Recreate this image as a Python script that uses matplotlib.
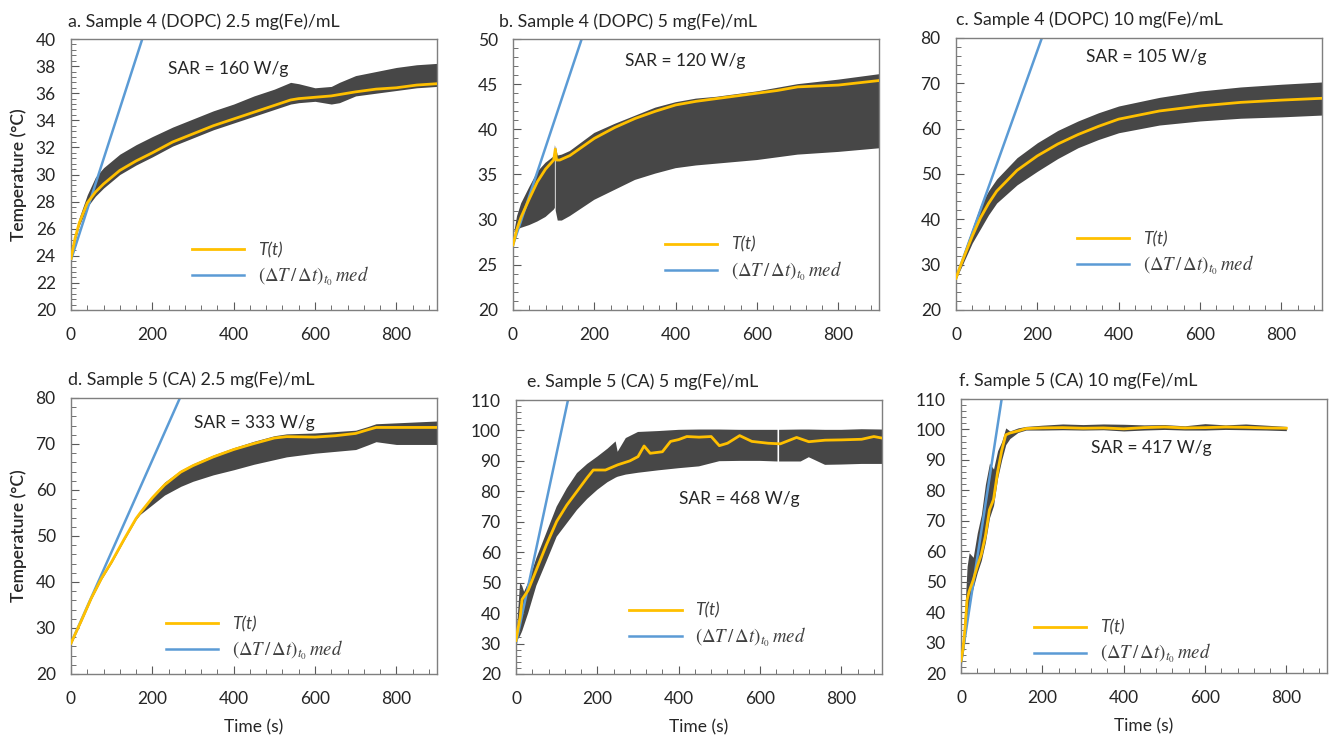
import numpy as np
import matplotlib
matplotlib.use("Agg")
from matplotlib import pyplot as plt
from matplotlib.ticker import MultipleLocator, AutoMinorLocator

plt.rcParams['font.family'] = ['Lato', 'DejaVu Sans']
plt.rcParams['mathtext.fontset'] = 'stix'

nan = np.nan

titles = ['a. Sample 4 (DOPC) 2.5 mg(Fe)/mL', 'b. Sample 4 (DOPC) 5 mg(Fe)/mL',
          'c. Sample 4 (DOPC) 10 mg(Fe)/mL', 'd. Sample 5 (CA) 2.5 mg(Fe)/mL',
          'e. Sample 5 (CA) 5 mg(Fe)/mL', 'f. Sample 5 (CA) 10 mg(Fe)/mL']
sar = [160, 120, 105, 333, 468, 417]
ylims = [(20, 40), (20, 50), (20, 80), (20, 80), (20, 110), (20, 110)]
ysteps = [2, 5, 10, 10, 10, 10]

# initial slope fits (intercept degC, slope degC/s)
fit_b0 = [23.7, 27.2, 27.0, 26.7, 30.1, 23.2]
fit_k = [0.093, 0.135, 0.251, 0.199, 0.625, 0.868]

# a
t_a = [0, 10, 20, 40, 60, 80, 120, 160, 200, 250, 300, 350, 400, 450, 500, 540, 560, 600, 640, 660, 700, 750, 800, 850, 900]
mean_a = [23.8, 25.3, 26.4, 27.9, 28.7, 29.3, 30.3, 31.0, 31.6, 32.4, 33.0, 33.6, 34.1, 34.6, 35.1, 35.5, 35.6, 35.7, 35.8, 35.9, 36.1, 36.3, 36.4, 36.6, 36.7]
up_a = [23.9, 25.6, 26.8, 28.5, 29.8, 30.5, 31.5, 32.2, 32.8, 33.5, 34.1, 34.7, 35.2, 35.8, 36.3, 36.8, 36.7, 36.4, 36.5, 36.8, 37.3, 37.6, 37.9, 38.1, 38.2]
lo_a = [23.7, 25.1, 26.2, 27.6, 28.4, 29.0, 30.0, 30.7, 31.3, 32.1, 32.7, 33.3, 33.8, 34.3, 34.8, 35.2, 35.3, 35.4, 35.2, 35.3, 35.8, 36.0, 36.2, 36.4, 36.5]

# b
t_b = [0, 10, 20, 40, 60, 80, 100, 104, 107, 115, 140, 200, 250, 300, 350, 400, 450, 500, 600, 650, 700, 800, 900]
mean_b = [27.2, 29.0, 30.3, 32.3, 34.2, 35.6, 36.6, 37.8, 36.6, 36.6, 37.1, 39.0, 40.2, 41.2, 42.0, 42.7, 43.1, 43.4, 44.0, 44.3, 44.7, 44.9, 45.4]
tb_band = [0, 3, 10, 20, 40, 60, 80, 100, 103, 104, 105, 110, 120, 140, 200, 250, 300, 350, 400, 450, 500, 600, 700, 800, 900]
up_b = [27.5, 28.6, 30.4, 31.8, 33.6, 35.3, 36.3, 37.0, 38.3, nan, 38.2, 37.1, 37.2, 37.6, 39.6, 40.6, 41.5, 42.4, 43.0, 43.4, 43.6, 44.2, 45.0, 45.5, 46.1]
lo_b = [26.3, 28.6, 28.9, 29.1, 29.4, 29.8, 30.3, 31.1, 31.3, nan, 31.0, 29.9, 29.9, 30.4, 32.2, 33.3, 34.4, 35.1, 35.7, 36.0, 36.2, 36.6, 37.2, 37.5, 37.9]

# c
t_c = [0, 10, 20, 40, 60, 80, 100, 150, 200, 250, 300, 350, 400, 500, 600, 700, 800, 900]
mean_c = [27.0, 29.5, 31.8, 36.3, 40.3, 43.5, 46.2, 50.8, 54.0, 56.6, 58.7, 60.5, 62.1, 63.9, 65.0, 65.8, 66.3, 66.7]
up_c = [27.3, 30.3, 33.0, 38.0, 43.0, 46.3, 48.9, 53.6, 56.9, 59.6, 61.7, 63.5, 65.0, 66.9, 68.3, 69.2, 69.8, 70.3]
lo_c = [26.8, 28.8, 30.8, 34.8, 37.9, 41.0, 43.6, 47.6, 50.6, 53.4, 55.8, 57.6, 59.1, 60.8, 61.7, 62.3, 62.6, 63.0]

# d
t_d = [0, 25, 50, 75, 100, 130, 160, 170, 200, 230, 270, 300, 350, 400, 450, 500, 530, 600, 650, 700, 730, 750, 800, 850, 900]
mean_d = [26.7, 31.5, 36.5, 40.8, 44.4, 49.2, 53.8, 55.0, 58.3, 61.1, 63.9, 65.3, 67.2, 68.8, 70.1, 71.3, 71.6, 71.5, 71.8, 72.3, 73.1, 73.6, 73.6, 73.6, 73.6]
up_d = [26.9, 31.7, 36.8, 41.1, 44.7, 49.5, 54.2, 55.4, 58.8, 61.7, 64.3, 65.7, 67.6, 69.2, 70.6, 71.8, 72.2, 72.4, 72.7, 73.0, 73.8, 74.4, 74.6, 74.8, 75.0]
lo_d = [26.5, 31.3, 36.3, 40.6, 44.2, 49.0, 53.6, 54.7, 56.8, 58.9, 60.8, 61.9, 63.3, 64.4, 65.6, 66.6, 67.2, 68.0, 68.4, 68.8, 69.8, 70.5, 69.9, 69.9, 69.9]

# e
t_e = [0, 5, 10, 15, 20, 30, 50, 75, 100, 125, 150, 175, 190, 220, 250, 280, 300, 315, 330, 360, 380, 400, 420, 450, 480, 500, 520, 550, 580, 620, 650, 690, 720, 760, 800, 850, 880, 900]
mean_e = [31.0, 35.0, 38.5, 44.5, 45.5, 47.5, 54.2, 62.5, 70.1, 75.5, 80.0, 84.5, 87.0, 87.0, 88.7, 90.0, 91.4, 94.9, 92.5, 93.0, 96.4, 97.0, 98.0, 97.8, 98.0, 95.0, 95.8, 98.3, 96.4, 95.8, 95.6, 97.7, 96.3, 96.8, 96.9, 97.1, 98.0, 97.5]
te_band = [0, 5, 10, 15, 20, 30, 50, 75, 100, 125, 150, 175, 200, 225, 245, 250, 270, 300, 350, 400, 450, 500, 550, 600, 643, 645, 647, 700, 720, 760, 800, 850, 900]
up_e = [31.0, 40.0, 49.9, 49.0, 47.0, 50.0, 58.0, 66.5, 75.0, 81.0, 86.0, 89.0, 91.4, 94.0, 96.4, 93.0, 97.5, 99.5, 99.8, 100.2, 100.3, 100.3, 100.2, 100.2, 100.2, nan, 100.2, 100.3, 100.3, 100.2, 100.2, 100.4, 100.3]
lo_e = [30.0, 31.5, 32.5, 34.0, 36.0, 40.0, 49.0, 57.0, 65.1, 69.5, 73.9, 77.5, 80.5, 83.0, 84.5, 84.8, 85.5, 86.1, 86.9, 87.6, 88.2, 89.9, 90.0, 90.0, 89.8, nan, 89.8, 89.8, 91.2, 88.7, 88.8, 89.0, 89.0]

# f
t_f = [0, 5, 10, 15, 20, 30, 40, 50, 60, 70, 80, 90, 100, 110, 120, 140, 160, 200, 250, 300, 350, 400, 450, 500, 550, 600, 650, 700, 750, 800]
mean_f = [24.0, 28.0, 35.0, 44.0, 46.8, 50.5, 55.0, 59.0, 65.0, 73.6, 77.0, 86.0, 93.0, 98.2, 98.8, 99.5, 100.3, 100.5, 100.6, 100.4, 100.5, 100.2, 100.6, 100.8, 100.5, 100.6, 100.8, 100.7, 100.5, 100.4]
up_f = [25.0, 32.0, 42.0, 55.0, 59.5, 58.0, 66.0, 72.0, 82.0, 88.9, 87.0, 93.0, 96.0, 100.5, 99.5, 100.5, 101.0, 101.4, 101.8, 101.6, 101.8, 101.7, 101.5, 101.6, 101.2, 101.9, 101.5, 101.8, 101.4, 101.0]
lo_f = [23.0, 26.0, 31.0, 38.0, 43.0, 48.0, 53.0, 57.0, 63.0, 71.0, 75.0, 84.0, 90.0, 95.0, 97.0, 99.0, 99.8, 99.8, 99.9, 99.8, 99.9, 99.5, 99.8, 100.0, 99.8, 99.8, 100.0, 99.9, 99.8, 99.6]

means = [(t_a, mean_a), (t_b, mean_b), (t_c, mean_c), (t_d, mean_d), (t_e, mean_e), (t_f, mean_f)]
bands = [(t_a, up_a, lo_a), (tb_band, up_b, lo_b), (t_c, up_c, lo_c),
         (t_d, up_d, lo_d), (te_band, up_e, lo_e), (t_f, up_f, lo_f)]

# layout, pixels of a 1335x737 figure: left, right, top, bottom
W, H = 1335, 737
boxes = [(71, 437, 39, 310), (513, 879, 39, 310), (956, 1322, 38, 310),
         (71, 437, 398, 674), (516, 882, 400, 674), (961, 1327, 399, 673)]
sar_pos = [(0.43, 0.89), (0.47, 0.92), (0.52, 0.93), (0.50, 0.91), (0.61, 0.64), (0.52, 0.82)]
leg_pos = [(0.33, 0.25), (0.415, 0.27), (0.33, 0.29), (0.26, 0.21), (0.31, 0.26), (0.20, 0.195)]
title_dx = [-0.008, -0.038, 0.0, -0.008, 0.03, -0.005]

YELLOW = '#FFC000'
BLUE = '#5B9BD5'
GRAY = '#474747'
TXT = '#262626'

fig = plt.figure(figsize=(W / 100, H / 100), dpi=100)

for i in range(6):
    l, r, t, b = boxes[i]
    ax = fig.add_axes([l / W, 1 - b / H, (r - l) / W, (b - t) / H])
    tt, up, lo = bands[i]
    ax.fill_between(tt, lo, up, color=GRAY, linewidth=0, zorder=1)
    tm, ym = means[i]
    ax.plot(tm, ym, color=YELLOW, lw=2.0, label='T(t)', zorder=3)
    xf = np.array([0, 900])
    ax.plot(xf, fit_b0[i] + fit_k[i] * xf, color=BLUE, lw=1.8,
            label=r'$(\Delta T\,/\,\Delta t)_{t_0}\,med$', zorder=2)

    ax.set_xlim(0, 900)
    ax.set_ylim(*ylims[i])
    ax.xaxis.set_major_locator(MultipleLocator(200))
    ax.xaxis.set_minor_locator(AutoMinorLocator(5))
    ax.yaxis.set_major_locator(MultipleLocator(ysteps[i]))
    ax.yaxis.set_minor_locator(AutoMinorLocator(5))
    ax.tick_params(which='both', direction='in', color='#595959', labelsize=12.5,
                   labelcolor=TXT, top=False, right=False)
    ax.tick_params(axis='x', which='major', length=6, pad=12)
    ax.tick_params(axis='y', which='major', length=6, pad=11)
    ax.tick_params(which='minor', length=3.5)
    for s in ax.spines.values():
        s.set_color('#7f7f7f')
        s.set_linewidth(1.0)

    ax.text(title_dx[i], 1.035, titles[i], transform=ax.transAxes, fontsize=12.8,
            color=TXT, ha='left', va='bottom')
    ax.text(sar_pos[i][0], sar_pos[i][1], 'SAR = %d W/g' % sar[i], transform=ax.transAxes,
            fontsize=12.5, color=TXT, ha='center', va='center')

    leg = ax.legend(loc='upper left', bbox_to_anchor=leg_pos[i], frameon=False,
                    fontsize=12.5, handlelength=3.0, labelspacing=0.35,
                    borderpad=0, borderaxespad=0, handletextpad=0.8)
    leg.get_texts()[0].set_fontstyle('italic')
    leg.get_texts()[1].set_fontsize(13.5)
    for txt in leg.get_texts():
        txt.set_color('#404040')

    if i % 3 == 0:
        ax.set_ylabel('Temperature (°C)', fontsize=12.5, color=TXT, fontweight='semibold')
        ax.yaxis.set_label_coords(-0.12, 0.5)
    if i >= 3:
        ax.set_xlabel('Time (s)', fontsize=12.5, color=TXT)
        ax.xaxis.set_label_coords(0.5, -0.165)

fig.savefig('out.png', dpi=100)
